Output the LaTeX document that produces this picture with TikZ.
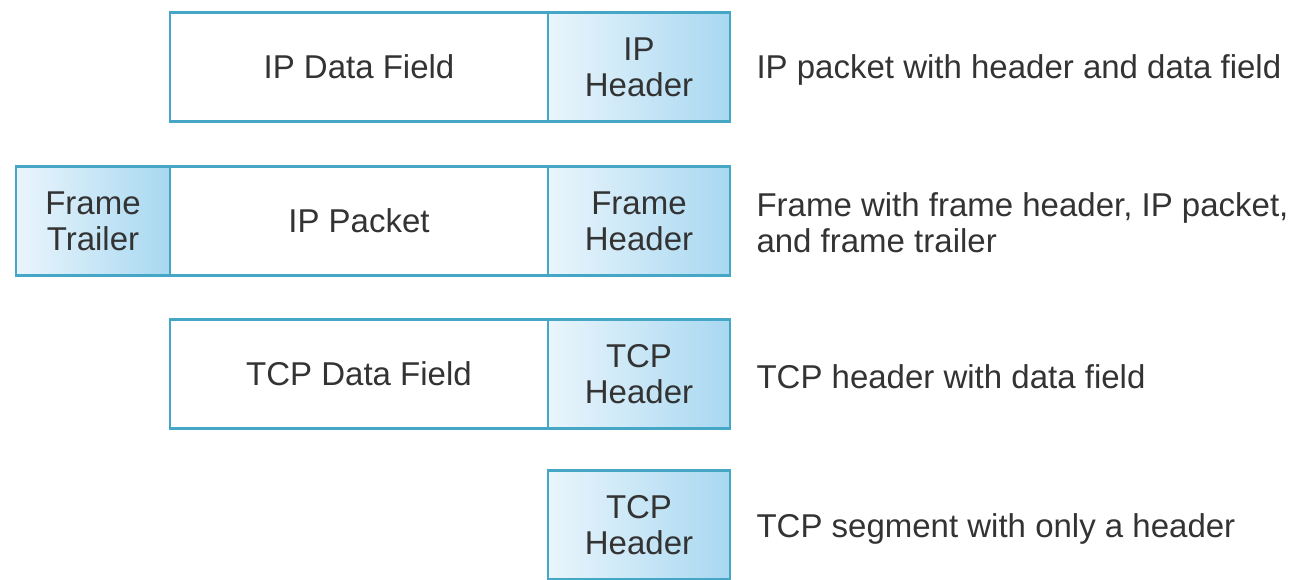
\documentclass[tikz,border=0pt]{standalone}
\usepackage{fontspec}
\setmainfont{Liberation Sans}
\usepackage{tikz}
\usetikzlibrary{positioning}
\definecolor{fieldline}{HTML}{45A6C6}
\definecolor{hdrleft}{HTML}{EAF5FC}
\definecolor{hdrright}{HTML}{A8D8F1}
\definecolor{txtgray}{HTML}{333333}

\begin{document}
\begin{tikzpicture}[
  x=1pt, y=-1pt,
  node distance=0pt,
  every node/.style={font=\fontsize{33}{36}\selectfont, text=txtgray},
  databox/.style={rectangle, draw=fieldline, line width=2.5pt, fill=white, outer sep=0pt, align=center, minimum height=109pt},
  hdrbox/.style={databox, left color=hdrleft, right color=hdrright, minimum width=182pt},
  desc/.style={anchor=west, align=left}
]
\useasboundingbox (0,0) rectangle (1306,579);

% Row 1: IP packet
\node[databox, minimum width=378pt] (ipdata) at (359,67) {IP Data Field};
\node[hdrbox, right=of ipdata] (iphdr) {IP\\Header};
\node[desc] (ipdesc) at (753,70) {IP packet with header and data field};

% Row 2: frame
\node[databox, minimum width=378pt] (frmpkt) at (359,221) {IP Packet};
\node[hdrbox, right=of frmpkt] (frmhdr) {Frame\\Header};
\node[hdrbox, left=of frmpkt, minimum width=154pt] (frmtrl) {Frame\\Trailer};
\node[desc] (frmdesc) at (753,223) {Frame with frame header, IP packet,\\and frame trailer};

% Row 3: TCP segment with data
\node[databox, minimum width=378pt] (tcpdata) at (359,374) {TCP Data Field};
\node[hdrbox, right=of tcpdata] (tcphdr) {TCP\\Header};
\node[desc] (tcpdesc) at (753,377) {TCP header with data field};

% Row 4: header only
\node[hdrbox] (onlyhdr) at (639,525) {TCP\\Header};
\node[desc] (onlydesc) at (753,529) {TCP segment with only a header};

\end{tikzpicture}
\end{document}
